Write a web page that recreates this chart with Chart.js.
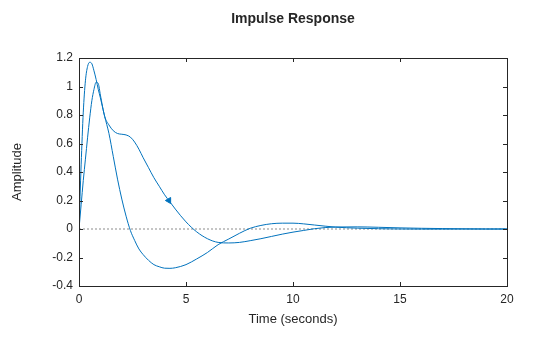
<!DOCTYPE html>
<html>
<head>
<meta charset="utf-8">
<title>Impulse Response</title>
<script src="https://cdn.jsdelivr.net/npm/chart.js@4.4.1/dist/chart.umd.min.js"></script>
<style>
  html, body { margin: 0; padding: 0; background: #fff; }
  canvas { display: block; }
</style>
</head>
<body>
<canvas id="impulse" width="560" height="337"></canvas>
<script>
// sample times (s) shared by both responses
const time = [0, 0.1, 0.2, 0.3, 0.4, 0.5, 0.6, 0.7, 0.8, 0.9, 1.0, 1.2, 1.4, 1.6, 1.8, 2.0,
    2.2, 2.4, 2.6, 2.8, 3.0, 3.25, 3.5, 3.75, 4.0, 4.25, 4.5, 5, 5.5, 6, 6.5, 7, 7.5, 8,
    8.5, 9, 9.5, 10, 10.5, 11, 11.5, 12, 13, 14, 15, 16, 17, 18, 19, 20];

// fast response, large undershoot
const responseA = [0, 0.45, 0.82, 1.04, 1.14, 1.17, 1.16, 1.11, 1.05, 0.98, 0.92, 0.79, 0.67, 0.51, 0.35, 0.21,
    0.09, -0.01, -0.08, -0.14, -0.18, -0.22, -0.25, -0.265, -0.275, -0.276, -0.272, -0.25, -0.21, -0.165, -0.11, -0.07, -0.03, 0.005,
    0.025, 0.037, 0.041, 0.041, 0.036, 0.028, 0.02, 0.013, 0.006, 0.002, 0, -0.001, -0.001, 0, 0, 0];

// slower response with the shoulder near 2 s
const responseB = [0, 0.17, 0.34, 0.49, 0.64, 0.78, 0.9, 0.98, 1.03, 1.02, 0.94, 0.79, 0.73, 0.69, 0.67, 0.665,
    0.66, 0.645, 0.61, 0.56, 0.5, 0.43, 0.36, 0.3, 0.24, 0.19, 0.14, 0.05, -0.02, -0.068, -0.094, -0.098, -0.094, -0.082,
    -0.068, -0.052, -0.036, -0.022, -0.01, 0.002, 0.01, 0.014, 0.015, 0.012, 0.008, 0.005, 0.003, 0.001, 0, 0];

// arrow marker sitting on response B
const markerTime = [4.2];
const markerAmp = [0.2];

const xTicks = [0, 5, 10, 15, 20];
const yTicks = [-0.4, -0.2, 0, 0.2, 0.4, 0.6, 0.8, 1, 1.2];

const blue = '#0072BD';
const ink = '#262626';
const fontFamily = '"Liberation Sans", Arial, Helvetica, sans-serif';

const toPoints = (xs, ys) => xs.map((x, i) => ({ x: x, y: ys[i] }));

// box around the axes with ticks pointing inwards on all four sides
const boxPlugin = {
    id: 'box',
    afterDraw(chart) {
        const { ctx, chartArea: a, scales } = chart;
        const len = 4;
        ctx.save();
        ctx.strokeStyle = ink;
        ctx.lineWidth = 1;
        ctx.beginPath();
        xTicks.forEach(v => {
            const px = Math.round(scales.x.getPixelForValue(v)) + 0.5;
            ctx.moveTo(px, a.bottom); ctx.lineTo(px, a.bottom - len);
            ctx.moveTo(px, a.top); ctx.lineTo(px, a.top + len);
        });
        yTicks.forEach(v => {
            const py = Math.round(scales.y.getPixelForValue(v)) + 0.5;
            ctx.moveTo(a.left, py); ctx.lineTo(a.left + len, py);
            ctx.moveTo(a.right, py); ctx.lineTo(a.right - len, py);
        });
        ctx.stroke();
        ctx.strokeRect(Math.round(a.left) + 0.5, Math.round(a.top) + 0.5,
            Math.round(a.right - a.left), Math.round(a.bottom - a.top));
        ctx.restore();
    }
};

new Chart(document.getElementById('impulse'), {
    type: 'line',
    data: {
        datasets: [
            {
                label: 'marker',
                data: toPoints(markerTime, markerAmp),
                showLine: false,
                pointStyle: 'triangle',
                pointRadius: 3.5,
                pointRotation: -90,
                pointBackgroundColor: blue,
                pointBorderColor: blue,
                pointBorderWidth: 1
            },
            {
                label: 'A',
                data: toPoints(time, responseA),
                borderColor: blue,
                borderWidth: 1,
                pointRadius: 0,
                cubicInterpolationMode: 'monotone'
            },
            {
                label: 'B',
                data: toPoints(time, responseB),
                borderColor: blue,
                borderWidth: 1,
                pointRadius: 0,
                cubicInterpolationMode: 'monotone'
            },
            {
                label: 'zero',
                data: toPoints([0, 20], [0, 0]),
                borderColor: '#8c8c8c',
                borderWidth: 1,
                borderDash: [2, 2],
                pointRadius: 0
            }
        ]
    },
    options: {
        responsive: false,
        animation: false,
        layout: { padding: { left: 0, right: 53, top: 0, bottom: 0 } },
        plugins: {
            legend: { display: false },
            tooltip: { enabled: false }
        },
        scales: {
            x: {
                type: 'linear',
                position: 'bottom',
                min: 0,
                max: 20,
                afterBuildTicks: s => { s.ticks = xTicks.map(v => ({ value: v })); },
                afterFit: s => { s.height = 51; },
                grid: { display: false, drawTicks: false },
                border: { display: false },
                ticks: { color: ink, padding: 6, maxRotation: 0, font: { family: fontFamily, size: 12 } },
                title: {
                    display: true,
                    text: 'Time (seconds)',
                    color: ink,
                    padding: { top: 0, bottom: 10 },
                    font: { family: fontFamily, size: 13 }
                }
            },
            top: {
                type: 'linear',
                position: 'top',
                min: 0,
                max: 20,
                afterFit: s => { s.height = 58; },
                grid: { display: false, drawTicks: false },
                border: { display: false },
                ticks: { display: false },
                title: {
                    display: true,
                    text: 'Impulse Response',
                    color: ink,
                    padding: { top: 11, bottom: 0 },
                    font: { family: fontFamily, size: 14, weight: 'bold' }
                }
            },
            y: {
                type: 'linear',
                min: -0.4,
                max: 1.2,
                afterBuildTicks: s => { s.ticks = yTicks.map(v => ({ value: v })); },
                afterFit: s => { s.width = 79; },
                grid: { display: false, drawTicks: false },
                border: { display: false },
                ticks: {
                    color: ink,
                    padding: 6,
                    font: { family: fontFamily, size: 12 },
                    callback: v => String(+v.toFixed(1))
                },
                title: {
                    display: true,
                    text: 'Amplitude',
                    color: ink,
                    padding: { top: 10, bottom: 0 },
                    font: { family: fontFamily, size: 13 }
                }
            }
        }
    },
    plugins: [boxPlugin]
});
</script>
</body>
</html>
